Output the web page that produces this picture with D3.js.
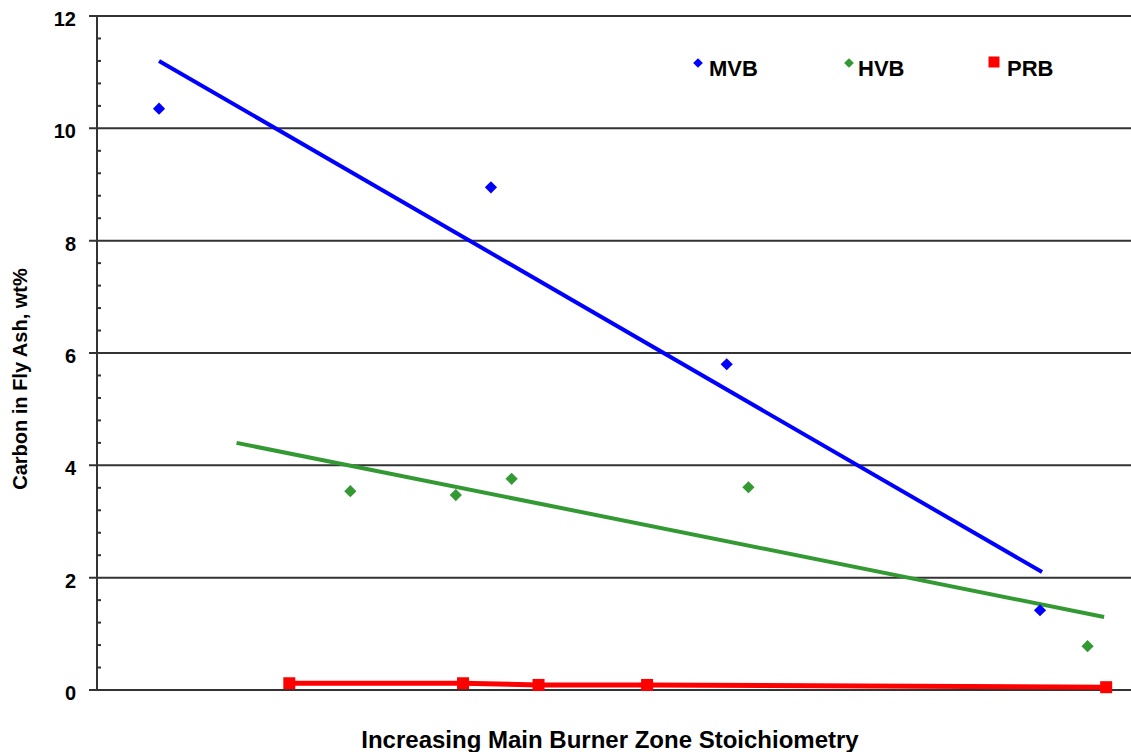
<!DOCTYPE html>
<html>
<head>
<meta charset="utf-8">
<script src="https://cdn.jsdelivr.net/npm/d3@7"></script>
<style>
  body { margin: 0; background: #fff; }
  text { font-family: Arial, "Liberation Sans", sans-serif; font-weight: bold; fill: #000; }
</style>
</head>
<body>
<script>
// x has no labels on the chart: positions are relative (0-100 across the plot)
var yTicks = [0, 2, 4, 6, 8, 10, 12]

var mvbX = [6.0, 38.1, 60.9, 91.2]
var mvbY = [10.35, 8.95, 5.80, 1.42]
var mvbTrendX = [6.0, 91.4]
var mvbTrendY = [11.2, 2.1]

var hvbX = [24.5, 34.7, 40.1, 63.0, 95.8]
var hvbY = [3.54, 3.47, 3.76, 3.61, 0.78]
var hvbTrendX = [13.5, 97.4]
var hvbTrendY = [4.4, 1.3]

var prbX = [18.6, 35.4, 42.7, 53.2, 97.6]
var prbY = [0.12, 0.12, 0.09, 0.09, 0.05]

var legendNames = ['MVB', 'HVB', 'PRB']
var colors = { MVB: '#0000ff', HVB: '#339933', PRB: '#ff0000' }

var width = 1131, height = 752
var margin = { left: 97, right: 0, top: 16, bottom: 62 }

var svg = d3.select('body').append('svg')
	.attr('width', width)
	.attr('height', height)

var x = d3.scaleLinear().domain([0, 100]).range([margin.left, width - margin.right])
var y = d3.scaleLinear().domain([0, 12]).range([height - margin.bottom, margin.top])

// grid lines + major ticks
svg.append('g').selectAll('line').data(yTicks).enter().append('line')
	.attr('x1', margin.left - 8)
	.attr('x2', width)
	.attr('y1', function(d){ return y(d) })
	.attr('y2', function(d){ return y(d) })
	.attr('stroke', '#333')
	.attr('stroke-width', 2)

// minor ticks (inside)
var minor = d3.range(0, 12.001, 0.4).filter(function(d){ return Math.abs(d / 2 - Math.round(d / 2)) > 0.01 })
svg.append('g').selectAll('line').data(minor).enter().append('line')
	.attr('x1', margin.left)
	.attr('x2', margin.left + 4)
	.attr('y1', function(d){ return y(d) })
	.attr('y2', function(d){ return y(d) })
	.attr('stroke', '#333')
	.attr('stroke-width', 2)

svg.append('line')
	.attr('x1', margin.left).attr('x2', margin.left)
	.attr('y1', y(12)).attr('y2', y(0))
	.attr('stroke', '#333').attr('stroke-width', 2)

svg.append('g').selectAll('text').data(yTicks).enter().append('text')
	.attr('x', 76)
	.attr('y', function(d){ return y(d) + 10 })
	.attr('text-anchor', 'end')
	.style('font-size', '20px')
	.text(function(d){ return d })

// axis titles
svg.append('text')
	.attr('transform', 'translate(27,' + 379 + ') rotate(-90)')
	.attr('text-anchor', 'middle')
	.style('font-size', '20px')
	.text('Carbon in Fly Ash, wt%')

svg.append('text')
	.attr('x', 610)
	.attr('y', 748)
	.attr('text-anchor', 'middle')
	.style('font-size', '24px')
	.text('Increasing Main Burner Zone Stoichiometry')

var line = d3.line()
	.x(function(d){ return x(d[0]) })
	.y(function(d){ return y(d[1]) })

function pairs(xs, ys){ return xs.map(function(v, i){ return [v, ys[i]] }) }

// trend lines
svg.append('path').datum(pairs(mvbTrendX, mvbTrendY))
	.attr('d', line).attr('fill', 'none')
	.attr('stroke', colors.MVB).attr('stroke-width', 4)
svg.append('path').datum(pairs(hvbTrendX, hvbTrendY))
	.attr('d', line).attr('fill', 'none')
	.attr('stroke', colors.HVB).attr('stroke-width', 4)
svg.append('path').datum(pairs(prbX, prbY))
	.attr('d', line).attr('fill', 'none')
	.attr('stroke', colors.PRB).attr('stroke-width', 5)

var diamond = d3.symbol().type(d3.symbolDiamond2).size(95)

svg.append('g').selectAll('path').data(pairs(mvbX, mvbY)).enter().append('path')
	.attr('d', diamond)
	.attr('transform', function(d){ return 'translate(' + x(d[0]) + ',' + y(d[1]) + ')' })
	.attr('fill', colors.MVB)
svg.append('g').selectAll('path').data(pairs(hvbX, hvbY)).enter().append('path')
	.attr('d', diamond)
	.attr('transform', function(d){ return 'translate(' + x(d[0]) + ',' + y(d[1]) + ')' })
	.attr('fill', colors.HVB)
svg.append('g').selectAll('rect').data(pairs(prbX, prbY)).enter().append('rect')
	.attr('x', function(d){ return x(d[0]) - 6 })
	.attr('y', function(d){ return y(d[1]) - 6 })
	.attr('width', 12).attr('height', 12)
	.attr('fill', colors.PRB)

// legend
var legendX = [698, 849, 994]
var textX = [709, 858, 1007]
var leg = svg.append('g').selectAll('g').data(legendNames).enter().append('g')
	.attr('transform', function(d, i){ return 'translate(' + legendX[i] + ',63)' })
leg.append('path')
	.attr('d', function(d){ return d === 'PRB' ? d3.symbol().type(d3.symbolSquare).size(121)() : d3.symbol().type(d3.symbolDiamond2).size(60)() })
	.attr('transform', function(d){ return d === 'PRB' ? 'translate(0,-1)' : null })
	.attr('fill', function(d){ return colors[d] })
leg.append('text')
	.attr('x', function(d, i){ return textX[i] - legendX[i] })
	.attr('y', 13)
	.style('font-size', '22px')
	.text(function(d){ return d })
</script>
</body>
</html>
